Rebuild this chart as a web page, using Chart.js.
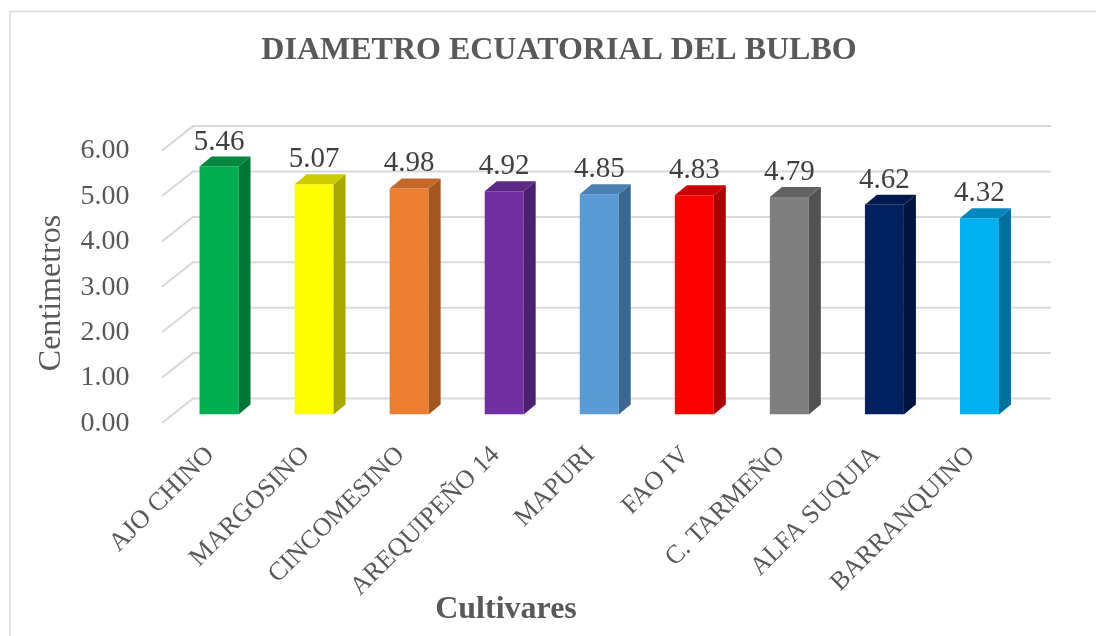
<!DOCTYPE html>
<html>
<head>
<meta charset="utf-8">
<script src="https://cdn.jsdelivr.net/npm/chart.js@4.4.1/dist/chart.umd.min.js"></script>
<style>
  html, body { margin: 0; padding: 0; background: #ffffff; }
  #wrap { width: 1096px; height: 636px; position: relative; }
</style>
</head>
<body>
<div id="wrap"><canvas id="c"></canvas></div>
<script>
// ---- data ----
const categories = ["AJO CHINO", "MARGOSINO", "CINCOMESINO", "AREQUIPEÑO 14", "MAPURI", "FAO IV", "C. TARMEÑO", "ALFA SUQUIA", "BARRANQUINO"];
const diameters = [5.46, 5.07, 4.98, 4.92, 4.85, 4.83, 4.79, 4.62, 4.32];
const yTickValues = [0, 1, 2, 3, 4, 5, 6];
const chartTitle = "DIAMETRO ECUATORIAL DEL BULBO";
const xAxisTitle = "Cultivares";
const yAxisTitle = "Centimetros";

// ---- styles ----
const frontColors = ["#00B050", "#FFFF00", "#ED7D31", "#7030A0", "#5B9BD5", "#FF0000", "#7F7F7F", "#002060", "#00B0F0"];
const sideColors  = ["#007535", "#A8A800", "#A3561F", "#4B2070", "#3C6790", "#AA0000", "#525252", "#00143F", "#00709C"];
const topColors   = ["#00893F", "#CCCC00", "#C4672A", "#5D2886", "#4A80B2", "#CC0000", "#626262", "#001A50", "#0088BE"];

const FONT = "'Liberation Serif', 'Times New Roman', serif";
const TEXT = "#595959";
const GRID = "#D9D9D9";
const DEPTH_X = 12, DEPTH_Y = 10;

const threeD = {
  id: 'threeD',
  beforeDatasetsDraw(chart) {
    const ctx = chart.ctx;
    const y = chart.scales.y;
    const a = chart.chartArea;
    ctx.save();
    ctx.strokeStyle = GRID;
    ctx.lineWidth = 1.5;
    ctx.strokeRect(10, 11.5, 1200, 1000);
    ctx.lineWidth = 2;
    yTickValues.forEach(v => {
      const yp = y.getPixelForValue(v);
      ctx.beginPath();
      ctx.moveTo(a.left - 9.5, yp + 8.5);
      ctx.lineTo(a.left + 21.5, yp - 16);
      ctx.lineTo(a.right + 24, yp - 16);
      ctx.stroke();
    });
    ctx.restore();
  },
  afterDatasetsDraw(chart) {
    const ctx = chart.ctx;
    const meta = chart.getDatasetMeta(0);
    ctx.save();
    meta.data.forEach((bar, i) => {
      const p = bar.getProps(['x', 'y', 'base', 'width'], true);
      const L = p.x - p.width / 2, R = p.x + p.width / 2;
      ctx.fillStyle = sideColors[i];
      ctx.beginPath();
      ctx.moveTo(R, p.y);
      ctx.lineTo(R + DEPTH_X, p.y - DEPTH_Y);
      ctx.lineTo(R + DEPTH_X, p.base - DEPTH_Y);
      ctx.lineTo(R, p.base);
      ctx.closePath();
      ctx.fill();
      ctx.fillStyle = topColors[i];
      ctx.beginPath();
      ctx.moveTo(L, p.y);
      ctx.lineTo(L + DEPTH_X, p.y - DEPTH_Y);
      ctx.lineTo(R + DEPTH_X, p.y - DEPTH_Y);
      ctx.lineTo(R, p.y);
      ctx.closePath();
      ctx.fill();
      ctx.fillStyle = "#404040";
      ctx.font = "29px " + FONT;
      ctx.textAlign = "center";
      ctx.textBaseline = "alphabetic";
      ctx.fillText(diameters[i].toFixed(2), p.x, p.y - 17);
    });
    ctx.restore();
  },
  afterDraw(chart) {
    const ctx = chart.ctx;
    ctx.save();
    ctx.fillStyle = TEXT;
    ctx.textAlign = "center";
    ctx.textBaseline = "middle";
    ctx.font = "bold 32px " + FONT;
    ctx.fillText(chartTitle, 559, 50.5);
    ctx.fillText(xAxisTitle, 506, 609.5);
    ctx.font = "32px " + FONT;
    ctx.translate(52, 293);
    ctx.rotate(-Math.PI / 2);
    ctx.fillText(yAxisTitle, 0, 0);
    ctx.restore();
  }
};

new Chart(document.getElementById('c'), {
  type: 'bar',
  data: {
    labels: categories,
    datasets: [{
      data: diameters,
      backgroundColor: frontColors,
      borderWidth: 0,
      barPercentage: 0.41,
      categoryPercentage: 1.0
    }]
  },
  options: {
    responsive: true,
    maintainAspectRatio: false,
    animation: false,
    layout: { padding: { left: 28.8, right: 69, top: 142.1, bottom: 0 } },
    plugins: {
      legend: { display: false },
      tooltip: { enabled: false },
      title: { display: false }
    },
    scales: {
      x: {
        grid: { display: false },
        border: { display: false },
        ticks: {
          color: TEXT,
          font: { family: FONT, size: 26 },
          minRotation: 45,
          maxRotation: 45,
          autoSkip: false,
          padding: 17.5,
          labelOffset: -8.5
        },
        afterFit(scale) { scale.height = 221.5; }
      },
      y: {
        min: 0,
        max: 6,
        grid: { display: false },
        border: { display: false },
        ticks: {
          stepSize: 1,
          color: TEXT,
          font: { family: FONT, size: 28 },
          padding: 34,
          labelOffset: 9,
          callback: (v) => Number(v).toFixed(2)
        },
        title: { display: false },
        afterFit(scale) { scale.width = 142.7; }
      }
    }
  },
  plugins: [threeD]
});
</script>
</body>
</html>
